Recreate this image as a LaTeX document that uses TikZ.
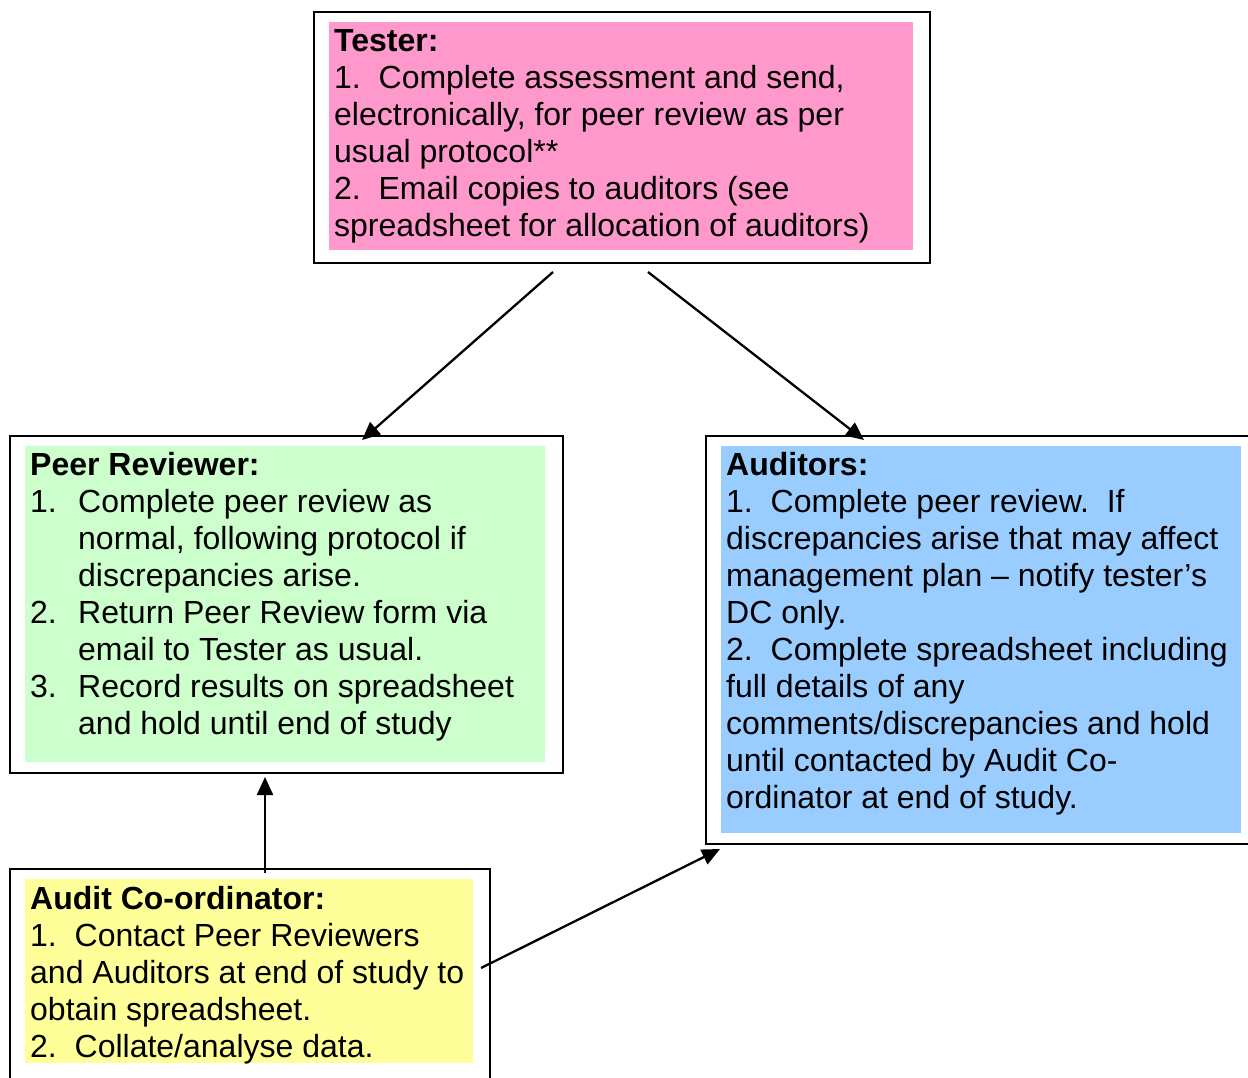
\documentclass[tikz,border=0pt]{standalone}
\usepackage{fontspec}
\setmainfont{Liberation Sans}
\usetikzlibrary{arrows.meta}
\definecolor{pinkfill}{HTML}{FF99CC}
\definecolor{greenfill}{HTML}{CCFFCC}
\definecolor{bluefill}{HTML}{99CCFF}
\definecolor{yellowfill}{HTML}{FFFF99}
\tikzset{
  outerbox/.style={draw=black, line width=2pt, fill=white, anchor=north west, inner sep=0pt},
  fillbox/.style={anchor=north west, inner sep=0pt, draw=none},
  txt/.style={anchor=north west, inner sep=0pt, align=left, font=\fontsize{32}{37}\selectfont},
  conn/.style={line width=2.3pt, -{Triangle[length=18pt,width=16pt]}}
}
\newcommand{\fl}{\rule{0pt}{28pt}}
\newcommand{\numb}[1]{\makebox[48pt][l]{#1}}
\newcommand{\ind}{\hspace*{48pt}}
\begin{document}
\begin{tikzpicture}[x=1pt,y=-1pt]
\useasboundingbox (0,0) rectangle (1248,1078);
\fill[white] (0,0) rectangle (1248,1078);

% Tester
\node[outerbox, minimum width=616pt, minimum height=251pt] (tester) at (313,11) {};
\node[fillbox, fill=pinkfill, minimum width=584pt, minimum height=228pt] (testerfill) at (329,22) {};
\node[txt] (testertext) at (334,23) {\fl\textbf{Tester:}\\
1.\ \ Complete assessment and send,\\
electronically, for peer review as per\\
usual protocol**\\
2.\ \ Email copies to auditors (see\\
spreadsheet for allocation of auditors)};

% Peer Reviewer
\node[outerbox, minimum width=553pt, minimum height=337pt] (peer) at (9,435) {};
\node[fillbox, fill=greenfill, minimum width=520pt, minimum height=316pt] (peerfill) at (25,446) {};
\node[txt] (peertext) at (30,447) {\fl\textbf{Peer Reviewer:}\\
\numb{1.}Complete peer review as\\
\ind normal, following protocol if\\
\ind discrepancies arise.\\
\numb{2.}Return Peer Review form via\\
\ind email to Tester as usual.\\
\numb{3.}Record results on spreadsheet\\
\ind and hold until end of study};

% Auditors
\node[outerbox, minimum width=550pt, minimum height=408pt] (aud) at (705,435) {};
\node[fillbox, fill=bluefill, minimum width=520pt, minimum height=387pt] (audfill) at (721,446) {};
\node[txt] (audtext) at (726,447) {\fl\textbf{Auditors:}\\
1.\ \ Complete peer review.\ \ If\\
discrepancies arise that may affect\\
management plan -- notify tester’s\\
DC only.\\
2.\ \ Complete spreadsheet including\\
full details of any\\
comments/discrepancies and hold\\
until contacted by Audit Co-\\
ordinator at end of study.};

% Audit Co-ordinator
\node[outerbox, minimum width=480pt, minimum height=230pt] (coord) at (9,868) {};
\node[fillbox, fill=yellowfill, minimum width=448pt, minimum height=184pt] (coordfill) at (25,879) {};
\node[txt] (coordtext) at (30,881) {\fl\textbf{Audit Co-ordinator:}\\
1.\ \ Contact Peer Reviewers\\
and Auditors at end of study to\\
obtain spreadsheet.\\
2.\ \ Collate/analyse data.};

% connector end points
\coordinate (a1s) at (553,272);
\coordinate (a1e) at (362,440);
\coordinate (a2s) at (648,272);
\coordinate (a2e) at (864,440);
\coordinate (a3s) at (265,873);
\coordinate (a3e) at (265,777);
\coordinate (a4s) at (481,968);
\coordinate (a4e) at (720,849);

\draw[conn] (a1s) -- (a1e);
\draw[conn] (a2s) -- (a2e);
\draw[conn] (a3s) -- (a3e);
\draw[conn] (a4s) -- (a4e);
\end{tikzpicture}
\end{document}
